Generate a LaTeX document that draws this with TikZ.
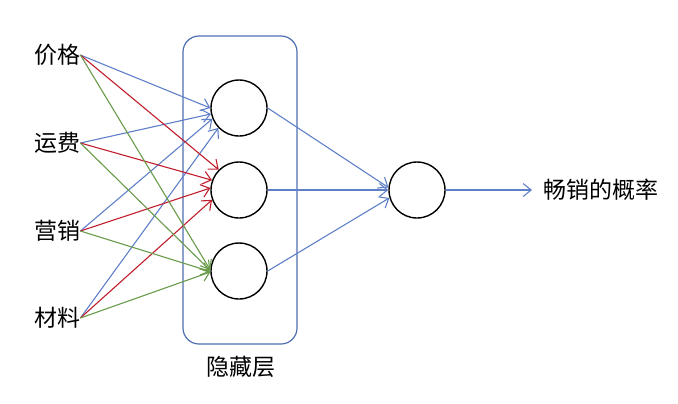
\documentclass[tikz,border=0pt]{standalone}
\usepackage{fontspec}
\setmainfont{Noto Sans CJK SC}
\usetikzlibrary{arrows.meta, positioning}
\definecolor{cBlue}{RGB}{95,128,200}
\definecolor{cRed}{RGB}{192,30,45}
\definecolor{cGreen}{RGB}{105,155,75}
\definecolor{cFrame}{RGB}{80,110,180}
\tikzset{
	neuron/.style  ={circle, draw=black, line width=0.7pt, minimum size=28pt, inner sep=0pt},
	inlabel/.style ={inner sep=0pt},
	layerbox/.style={draw=cFrame, line width=0.6pt, rounded corners=8pt},
	% connector styles
	wire/.style    ={-{Straight Barb[length=4pt, width=6.5pt]}, line width=0.55pt},
}
\begin{document}
\begin{tikzpicture}[x=0.5pt, y=-0.5pt, font=\fontsize{11.5}{13}\selectfont]
	\useasboundingbox (0,0) rectangle (678,403);
	\draw[layerbox] (183,36) rectangle (297,344);
	\node[inlabel] (price) at (57,55) {价格};
	\node[inlabel] (freight) at (57,143) {运费};
	\node[inlabel] (market) at (57,231) {营销};
	\node[inlabel] (material) at (57,318) {材料};
	\node[neuron] (h1) at (239,108) {};
	\node[neuron] (h2) at (239,190) {};
	\node[neuron] (h3) at (239,271) {};
	\node[neuron] (out) at (417,190) {};
	\node[inlabel] (hidden) at (241,367) {隐藏层};
	\coordinate (tip) at (532,190);
	\node[inlabel, anchor=west] (result) at (543,190) {畅销的概率};
	\foreach \src/\ang in {price/180, freight/192, market/202, material/224}
		\draw[wire, cBlue] (\src.east) -- (h1.\ang);
	\foreach \src/\ang in {price/135, freight/160, market/176, material/200}
		\draw[wire, cRed] (\src.east) -- (h2.\ang);
	\foreach \src/\ang in {price/178, freight/179, market/181, material/182}
		\draw[wire, cGreen] (\src.east) -- (h3.\ang);
	\foreach \h/\ang in {h1/175, h2/180, h3/196}
		\draw[wire, cBlue] (\h.east) -- (out.\ang);
	\draw[wire, cBlue] (out) -- (tip);
\end{tikzpicture}
\end{document}
